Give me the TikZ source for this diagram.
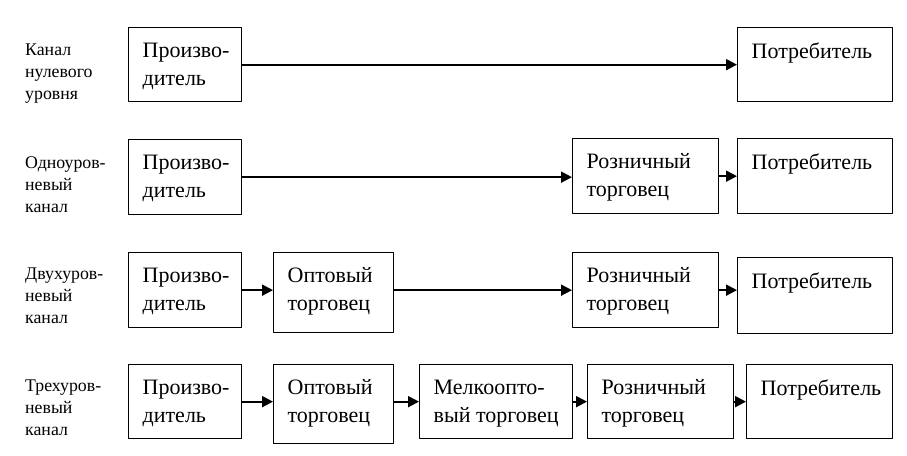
\documentclass[tikz,border=0pt]{standalone}
\usepackage{fontspec}
\setmainfont{Liberation Serif}
\usepackage{tikz}
\usetikzlibrary{arrows.meta}
\newcommand{\boxfont}{\fontsize{22}{28}\selectfont}
\newcommand{\chanfont}{\fontsize{17.8}{22}\selectfont}
\newcommand{\boxtxt}[3]{\parbox[t][#2][t]{#1}{\vspace*{15pt}\raggedright\leftskip=14pt\relax #3}}

\begin{document}
\begin{tikzpicture}[line cap=round,line join=round,>={Triangle[length=11pt,width=11pt]},x=1pt,y=1pt]
		\useasboundingbox (0,0) rectangle (907,-455);
		\tikzset{
			box/.style={draw,line width=1.3pt,anchor=north west,inner sep=0pt,font=\boxfont},
			chan/.style={anchor=base west,align=left,inner sep=0pt,font=\chanfont},
			flow/.style={->,line width=1.9pt}
		}
		% channel names (placed at their last line)
		\node[chan] (n1) at (25,-99) {Канал\\нулевого\\уровня};
		\node[chan] (n2) at (25,-212) {Одноуров-\\невый\\канал};
		\node[chan] (n3) at (25,-323) {Двухуров-\\невый\\канал};
		\node[chan] (n4) at (25,-435) {Трехуров-\\невый\\канал};
		% zero level
		\node[box] (p1) at (128,-27) {\boxtxt{113pt}{74pt}{Произво-\\дитель}};
		\node[box] (c1) at (737,-27) {\boxtxt{155pt}{74pt}{Потребитель}};
		\draw[flow] (p1.east) -- (c1.west);
		% one level
		\node[box] (p2) at (128,-139) {\boxtxt{113pt}{75pt}{Произво-\\дитель}};
		\node[box] (r2) at (572,-138) {\boxtxt{146pt}{75pt}{Розничный\\торговец}};
		\node[box] (c2) at (737,-138) {\boxtxt{155pt}{75pt}{Потребитель}};
		\draw[flow] (p2.east) -- (p2.east -| r2.west);
		\draw[flow] (r2.east) -- (c2.west);
		% two levels
		\node[box] (p3) at (128,-252) {\boxtxt{113pt}{75pt}{Произво-\\дитель}};
		\node[box] (w3) at (273,-252) {\boxtxt{120pt}{80pt}{Оптовый\\торговец}};
		\node[box] (r3) at (572,-252) {\boxtxt{146pt}{75pt}{Розничный\\торговец}};
		\node[box] (c3) at (737,-257) {\boxtxt{155pt}{76pt}{Потребитель}};
		\draw[flow] (p3.east) -- (p3.east -| w3.west);
		\draw[flow] (r3.west -| w3.east) -- (r3.west);
		\draw[flow] (r3.east) -- (r3.east -| c3.west);
		% three levels
		\node[box] (p4) at (128,-364) {\boxtxt{113pt}{74pt}{Произво-\\дитель}};
		\node[box] (w4) at (273,-364) {\boxtxt{120pt}{79pt}{Оптовый\\торговец}};
		\node[box] (m4) at (419,-364) {\boxtxt{153pt}{74pt}{Мелкоопто-\\вый торговец}};
		\node[box] (r4) at (587,-364) {\boxtxt{146pt}{74pt}{Розничный\\торговец}};
		\node[box] (c4) at (746,-364) {\boxtxt{146pt}{74pt}{Потребитель}};
		\draw[flow] (p4.east) -- (p4.east -| w4.west);
		\draw[flow] (m4.west -| w4.east) -- (m4.west);
		\draw[flow] (m4.east) -- (r4.west);
		\draw[flow] (r4.east) -- (c4.west);
	\end{tikzpicture}
\end{document}
